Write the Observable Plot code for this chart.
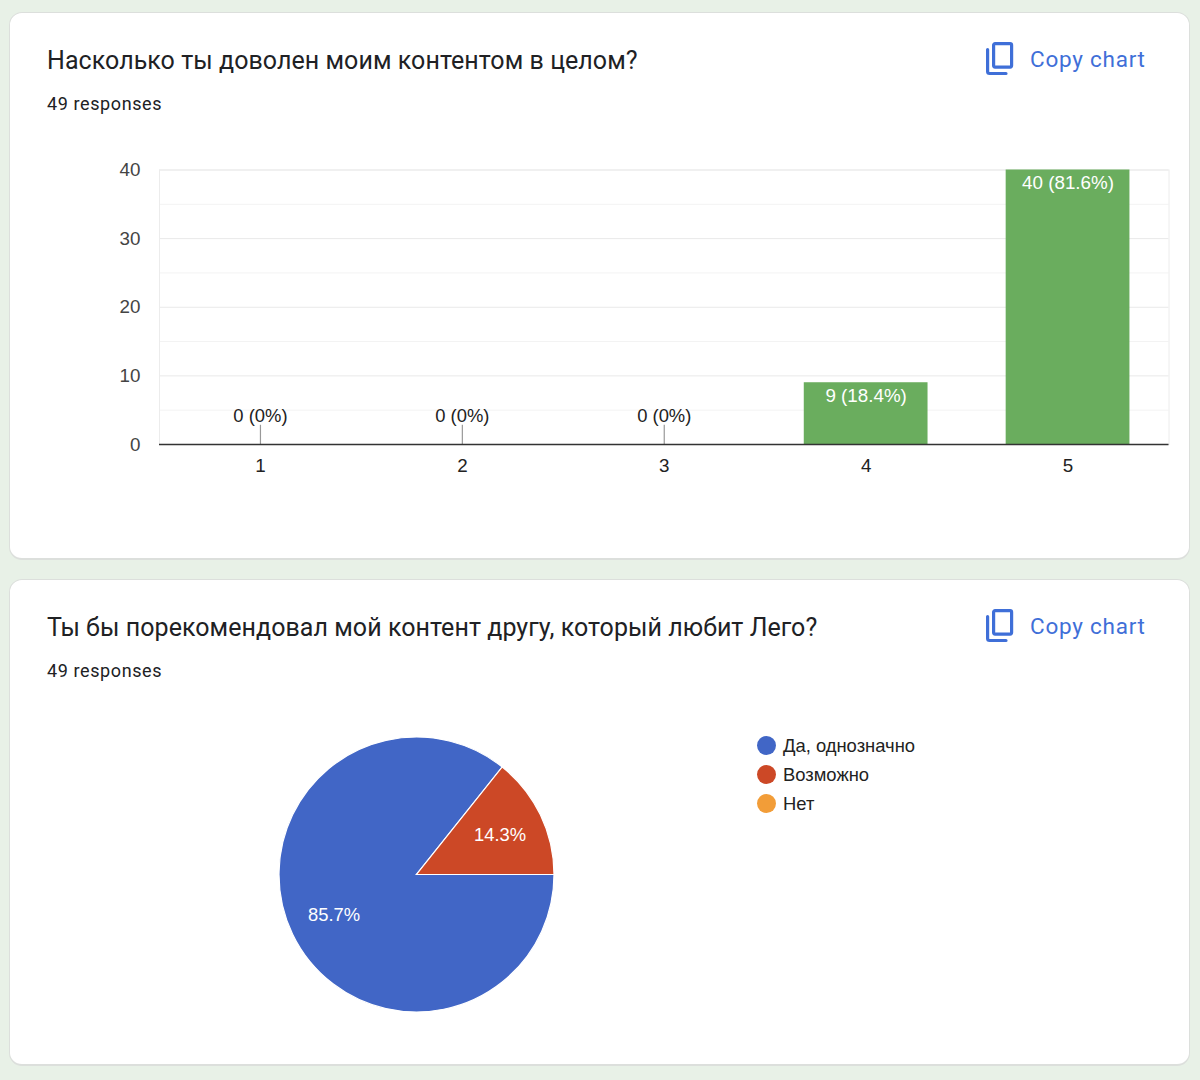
<!DOCTYPE html>
<html lang="ru">
<head>
<meta charset="utf-8">
<script src="https://cdn.jsdelivr.net/npm/d3@7"></script>
<script src="https://cdn.jsdelivr.net/npm/@observablehq/plot@0.6"></script>
<style>
  html, body { margin: 0; padding: 0; width: 1200px; height: 1080px; overflow: hidden; background: #e8f1e7; }
  .card { position: absolute; left: 9px; width: 1181px; background: #fff; border: 1px solid #dcdfdc; border-bottom-width: 2px; border-radius: 13px; }
  .abs { position: absolute; white-space: nowrap; }
  .title { left: 47px; font: 400 25px/32px Roboto, sans-serif; letter-spacing: 0.06px; color: #202124; }
  .resp { left: 47px; font: 400 18px/24px Roboto, sans-serif; letter-spacing: 0.6px; color: #202124; }
  .copy { left: 1030px; font: 400 22.5px/30px Roboto, sans-serif; letter-spacing: 0.75px; color: #3f6fd8; }
  .icon { left: 984px; }
  .chart { position: absolute; }
  .chart svg { display: block; overflow: visible; }
  .swatch { position: absolute; width: 19px; height: 19px; border-radius: 50%; left: 757px; }
  .leg { left: 783px; font: 400 18.4px/24px "Liberation Sans", sans-serif; color: #222; }
</style>
</head>
<body>
<div id="root"></div>
<script>
// ---- Text
const titles = ["Насколько ты доволен моим контентом в целом?", "Ты бы порекомендовал мой контент другу, который любит Лего?"];
const responsesText = "49 responses";
const copyText = "Copy chart";

// ---- Bar chart data
const ratings = ["1", "2", "3", "4", "5"];
const ratingCounts = [0, 0, 0, 9, 40];
const ratingLabels = ["0 (0%)", "0 (0%)", "0 (0%)", "9 (18.4%)", "40 (81.6%)"];
const majorTicks = [0, 10, 20, 30, 40];
const minorTicks = [5, 15, 25, 35];
const zeroLeader = 2.8;

// ---- Pie chart data
const answers = ["Да, однозначно", "Возможно", "Нет"];
const answerCounts = [42, 7, 0];
const answerLabels = ["85.7%", "14.3%", ""];
const answerColors = ["#4166c6", "#cc4826", "#f29d38"];

const root = document.getElementById("root");
function el(cls, top, html) {
  const d = document.createElement("div");
  d.className = cls;
  d.style.top = top + "px";
  d.innerHTML = html;
  root.appendChild(d);
  return d;
}
const iconSvg = `<svg width="32" height="34" viewBox="0 0 32 34" fill="none" stroke="#3f6fd8" stroke-width="3.2">
  <rect x="9.6" y="1.6" width="18" height="23.5" rx="1.5"/>
  <path d="M3.6 7.5V29.5a2 2 0 0 0 2 2H22" stroke-linecap="round"/></svg>`;

[[12, 548], [579, 487]].forEach(([top, h], i) => {
  const c = el("card", top, "");
  c.style.height = h + "px";
  c.style.boxSizing = "border-box";
  el("abs title", top + 33, titles[i]);
  el("abs resp", top + 80, responsesText);
  el("abs icon", top + 30, iconSvg);
  el("abs copy", top + 31.5, copyText);
});

// ---- Bar chart
const rows = ratings.map((r, i) => ({ rating: r, count: ratingCounts[i], label: ratingLabels[i] }));
const bar = Plot.plot({
  width: 1131, height: 340,
  marginLeft: 100, marginRight: 21.5, marginTop: 9.5, marginBottom: 56,
  style: { fontFamily: '"Liberation Sans", sans-serif', fontSize: "18.8px", background: "transparent" },
  x: { domain: ratings, paddingInner: 0.387, paddingOuter: 0.1935, round: false, label: null },
  y: { domain: [0, 40], label: null },
  marks: [
    Plot.ruleY(minorTicks, { stroke: "#f3f3f3" }),
    Plot.ruleY(majorTicks, { stroke: "#e9e9e9" }),
    Plot.frame({ stroke: "#ececec" }),
    Plot.barY(rows, { x: "rating", y: "count", fill: "#6aad5e" }),
    Plot.ruleX(rows.filter(d => d.count === 0), { x: "rating", y1: 0, y2: () => zeroLeader, stroke: "#999", strokeWidth: 1.2 }),
    Plot.ruleY([0], { stroke: "#333", strokeWidth: 1.6 }),
    Plot.axisY({ ticks: majorTicks, tickSize: 0, tickPadding: 19, fontSize: 18.8, color: "#444", label: null }),
    Plot.axisX({ tickSize: 0, tickPadding: 14.5, fontSize: 18.8, color: "#222", label: null }),
    Plot.text(rows.filter(d => d.count > 0), { x: "rating", y: "count", text: "label", fill: "#fff", fontSize: 18.8, dy: 13 }),
    Plot.text(rows.filter(d => d.count === 0), { x: "rating", y: () => zeroLeader, text: "label", fill: "#222", fontSize: 18.4, dy: -9 })
  ]
});
bar.classList.add("chart");
bar.style.left = "59px";
bar.style.top = "160px";
bar.style.position = "absolute";
root.appendChild(bar);

// ---- Pie chart
const slices = answers.map((a, i) => ({ answer: a, count: answerCounts[i], label: answerLabels[i] }));
const arcs = d3.pie().sort(null).value(d => d.count).startAngle(Math.PI / 2).endAngle(Math.PI * 2.5)(slices);
const labelRadius = 0.67;
const mid = a => (a.startAngle + a.endAngle) / 2;
const pie = Plot.plot({
  width: 279, height: 279, margin: 2,
  style: { fontFamily: '"Liberation Sans", sans-serif', background: "transparent" },
  x: { domain: [-1, 1], axis: null },
  y: { domain: [-1, 1], axis: null },
  color: { domain: answers, range: answerColors },
  marks: [
    Plot.dot(arcs, {
      x: () => 0, y: () => 0, r: 1, fill: a => a.data.answer,
      render(index, scales, values) {
        const R = scales.x(1) - scales.x(0);
        const arc = d3.arc().innerRadius(0).outerRadius(R);
        const g = d3.create("svg:g").attr("transform", `translate(${scales.x(0)},${scales.y(0)})`);
        for (const i of index) {
          g.append("path").attr("d", arc(arcs[i])).attr("fill", values.fill[i]).attr("stroke", "#fff").attr("stroke-width", 1.2);
        }
        return g.node();
      }
    }),
    Plot.text(arcs.filter(a => a.data.count > 0), {
      x: a => Math.sin(mid(a)) * labelRadius,
      y: a => Math.cos(mid(a)) * labelRadius,
      text: a => a.data.label, fill: "#fff", fontSize: 18.4
    })
  ]
});
pie.style.position = "absolute";
pie.style.left = "277.3px";
pie.style.top = "735.2px";
root.appendChild(pie);

// ---- Legend
answers.forEach((a, i) => {
  const top = 745.5 + i * 29;
  const s = document.createElement("div");
  s.className = "swatch";
  s.style.top = (top - 9.5) + "px";
  s.style.background = answerColors[i];
  root.appendChild(s);
  el("abs leg", top - 12, a);
});
</script>
</body>
</html>
